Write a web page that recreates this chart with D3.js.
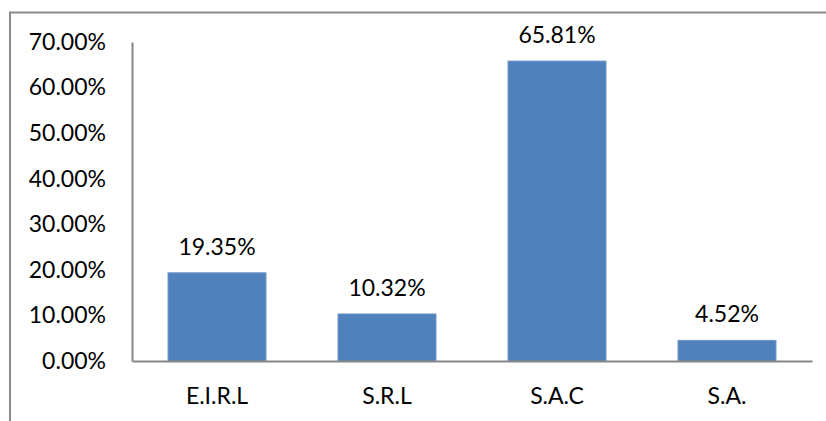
<!DOCTYPE html>
<html>
<head>
<meta charset="utf-8">
<script src="https://cdn.jsdelivr.net/npm/d3@7"></script>
<style>
  body { margin: 0; background: #fff; }
  svg text { font-family: Lato, "Open Sans", sans-serif; fill: #000; }
</style>
</head>
<body>
<div id="chart"></div>
<script>
'use strict';

// chart data
var categories = ['E.I.R.L', 'S.R.L', 'S.A.C', 'S.A.'];
var values = [19.35, 10.32, 65.81, 4.52];
var yTicks = [0, 10, 20, 30, 40, 50, 60, 70];

var width = 826, height = 421;
var margin = {left: 132, right: 14, top: 42, bottom: 60};
var fontSize = '23px';

var svg = d3.select('#chart').append('svg')
    .attr('width', width)
    .attr('height', height);

// outer frame (right/bottom edges fall outside the picture)
svg.append('rect')
    .attr('x', 10).attr('y', 12.5)
    .attr('width', 830).attr('height', 430)
    .attr('fill', 'none')
    .attr('stroke', '#8c8c8c')
    .attr('stroke-width', 2);

var x = d3.scaleBand()
    .domain(categories)
    .range([margin.left, width - margin.right])
    .paddingInner(0.424)
    .paddingOuter(0.212);

var y = d3.scaleLinear()
    .domain([0, 70])
    .range([height - margin.bottom, margin.top]);

// bars
svg.append('g').selectAll('rect')
    .data(values)
    .enter().append('rect')
    .attr('x', function(d, i) { return x(categories[i]); })
    .attr('y', function(d) { return y(d); })
    .attr('width', x.bandwidth())
    .attr('height', function(d) { return y(0) - y(d); })
    .attr('fill', '#4f81bd')
    .attr('stroke', '#6a93c8')
    .attr('stroke-width', 1);

// value labels
svg.append('g').selectAll('text')
    .data(values)
    .enter().append('text')
    .attr('x', function(d, i) { return x(categories[i]) + x.bandwidth() / 2; })
    .attr('y', function(d) { return y(d) - 18; })
    .attr('text-anchor', 'middle')
    .style('font-size', fontSize)
    .text(function(d) { return d.toFixed(2) + '%'; });

// y axis
var yAxis = svg.append('g')
    .attr('transform', 'translate(' + margin.left + ',0)')
    .call(d3.axisLeft(y).tickValues(yTicks).tickSize(0).tickPadding(26)
        .tickFormat(function(d) { return d.toFixed(2) + '%'; }));
yAxis.select('.domain').attr('stroke', '#868686').attr('stroke-width', 2);
yAxis.selectAll('text').style('font-size', fontSize);

// x axis
var xAxis = svg.append('g')
    .attr('transform', 'translate(0,' + y(0) + ')')
    .call(d3.axisBottom(x).tickSize(0).tickPadding(27));
xAxis.select('.domain').attr('stroke', '#868686').attr('stroke-width', 2);
xAxis.selectAll('text').style('font-size', fontSize);
</script>
</body>
</html>
